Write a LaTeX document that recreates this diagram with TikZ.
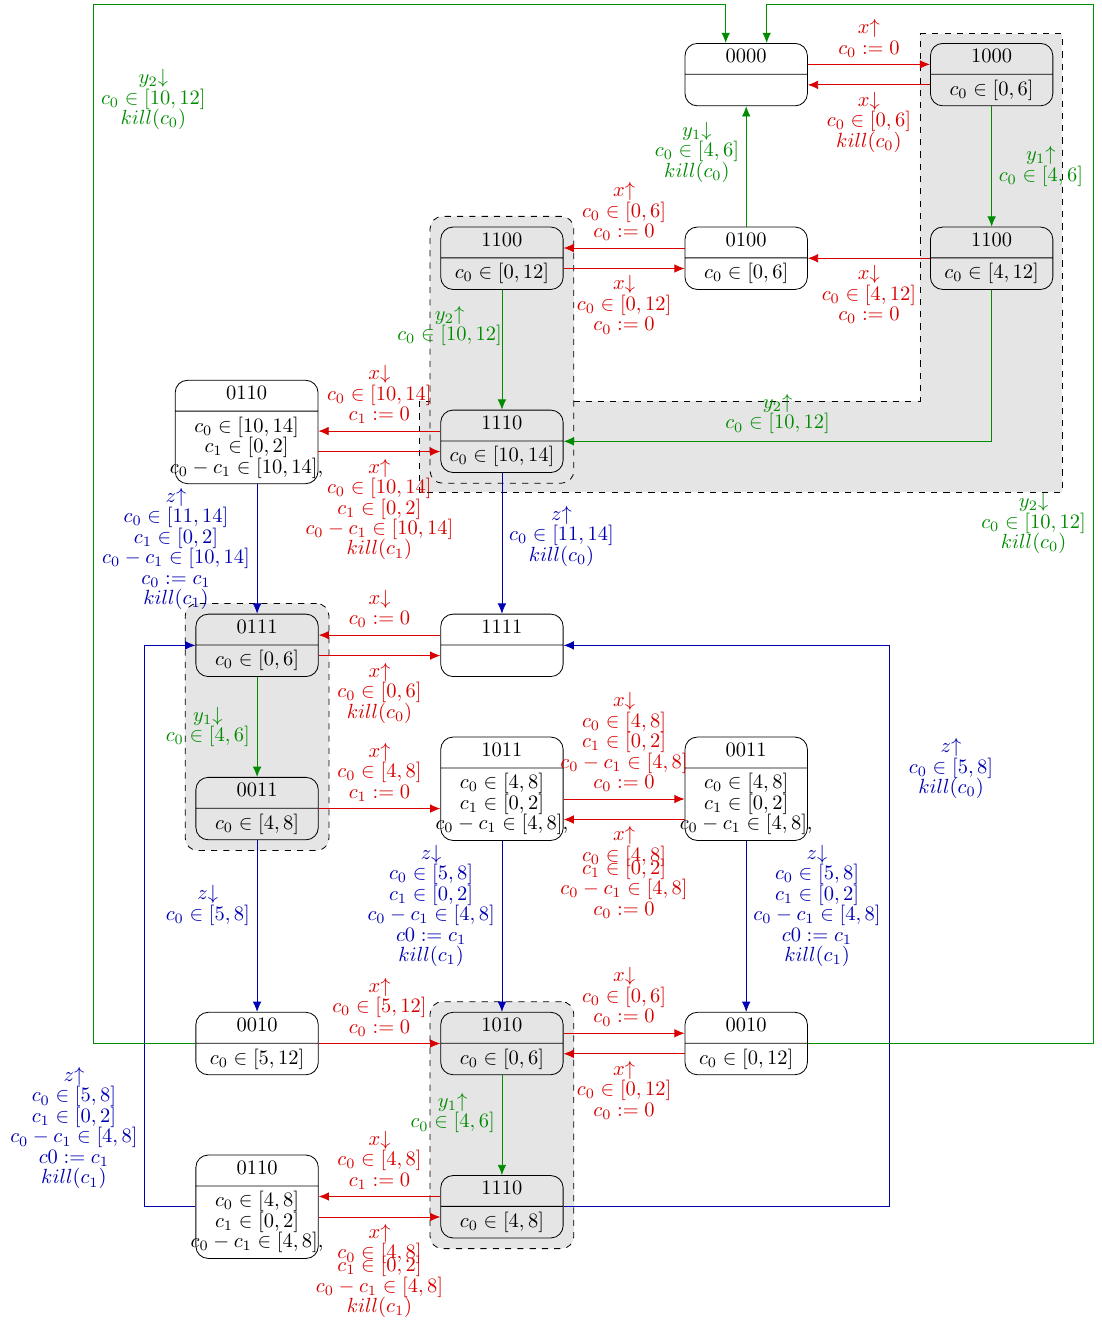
\documentclass[tikz,border=0pt]{standalone}
\usepackage{amsmath,amssymb}
\usepackage{tikz}
\usetikzlibrary{arrows.meta,backgrounds,fit,shapes.multipart,calc}

\newcommand\tightfont{\fontsize{10}{10}\selectfont}
\newcommand\nobody{$\vphantom{[]}$}
\newcommand\wide[1]{\makebox[0pt]{#1}}

\tikzset{
  state/.style={rectangle split, rectangle split parts=2, draw, rounded corners=6pt,
    minimum width=2.1cm, align=center, inner ysep=2.5pt, text depth=3pt},
  region/.style={draw=black, dashed, fill=gray!20},
  xedge/.style={->, color=red!85!black},
  yedge/.style={->, color=green!55!black},
  zedge/.style={->, color=blue!70!black},
  lbl/.style={align=center}
}

\begin{document}
\begin{tikzpicture}[>={Latex[length=5pt,width=4.2pt]}, font=\tightfont]
\useasboundingbox (0,0) rectangle (18.89,-22.78);

% states
\node[state] (s0000) at (12.80,-1.28) {0000 \nodepart{two} \nobody};
\node[state] (s1000) at (17.01,-1.28) {1000 \nodepart{two} $c_0 \in [0,6]$};
\node[state] (s1100a) at (8.61,-4.43) {1100 \nodepart{two} $c_0 \in [0,12]$};
\node[state] (s0100) at (12.80,-4.43) {0100 \nodepart{two} $c_0 \in [0,6]$};
\node[state] (s1100b) at (17.01,-4.43) {1100 \nodepart{two} $c_0 \in [4,12]$};
\node[state, minimum width=2.45cm] (s0110a) at (4.23,-7.41) {0110 \nodepart{two} $c_0 \in [10,14]$\\ $c_1 \in [0,2]$\\ \wide{$c_0 - c_1 \in [10,14]$,}};
\node[state] (s1110a) at (8.61,-7.57) {1110 \nodepart{two} $c_0 \in [10,14]$};
\node[state] (s0111) at (4.41,-11.07) {0111 \nodepart{two} $c_0 \in [0,6]$};
\node[state] (s1111) at (8.61,-11.07) {1111 \nodepart{two} \nobody};
\node[state] (s0011a) at (4.41,-13.87) {0011 \nodepart{two} $c_0 \in [4,8]$};
\node[state] (s1011) at (8.61,-13.53) {1011 \nodepart{two} $c_0 \in [4,8]$\\ $c_1 \in [0,2]$\\ \wide{$c_0 - c_1 \in [4,8]$,}};
\node[state] (s0011b) at (12.80,-13.53) {0011 \nodepart{two} $c_0 \in [4,8]$\\ $c_1 \in [0,2]$\\ \wide{$c_0 - c_1 \in [4,8]$,}};
\node[state] (s0010a) at (4.41,-17.90) {0010 \nodepart{two} $c_0 \in [5,12]$};
\node[state] (s1010) at (8.61,-17.90) {1010 \nodepart{two} $c_0 \in [0,6]$};
\node[state] (s0010b) at (12.80,-17.90) {0010 \nodepart{two} $c_0 \in [0,12]$};
\node[state] (s0110b) at (4.41,-20.70) {0110 \nodepart{two} $c_0 \in [4,8]$\\ $c_1 \in [0,2]$\\ \wide{$c_0 - c_1 \in [4,8]$,}};
\node[state] (s1110b) at (8.61,-20.70) {1110 \nodepart{two} $c_0 \in [4,8]$};

\coordinate (topleft) at (1.61,-0.07);
\coordinate (topright) at (18.75,-0.07);

% grey groups
\begin{scope}[on background layer]
\draw[region] (15.78,-0.58) -| (18.22,-8.44) -| (7.20,-6.88) -- (15.78,-6.88) -- cycle;
\node[region, rounded corners=6pt, inner sep=5pt, fit=(s1100a)(s1110a)] (g1) {};
\node[region, rounded corners=6pt, inner sep=5pt, fit=(s0111)(s0011a)] (g2) {};
\node[region, rounded corners=6pt, inner sep=5pt, fit=(s1010)(s1110b)] (g3) {};
\end{scope}

% top row
\draw[xedge] ([yshift=5pt]s0000.east) -- ([yshift=5pt]s1000.west) node[lbl, midway, above] {$x{\uparrow}$\\ $c_0 := 0$};
\draw[xedge] ([yshift=-5pt]s1000.west) -- ([yshift=-5pt]s0000.east) node[lbl, midway, below] {$x{\downarrow}$\\ $c_0 \in [0,6]$\\ $kill(c_0)$};
\draw[yedge] (s1000) -- (s1100b) node[lbl, midway, right] {$y_1{\uparrow}$\\ $c_0 \in [4,6]$};
\draw[xedge] (s1100b) -- (s0100) node[lbl, midway, below] {$x{\downarrow}$\\ $c_0 \in [4,12]$\\ $c_0 := 0$};
\draw[yedge] (s0100) -- (s0000) node[lbl, pos=0.62, left] {$y_1{\downarrow}$\\ $c_0 \in [4,6]$\\ $kill(c_0)$};
\draw[xedge] ([yshift=5pt]s0100.west) -- ([yshift=5pt]s0100.west -| s1100a.east) node[lbl, midway, above] {$x{\uparrow}$\\ $c_0 \in [0,6]$\\ $c_0 := 0$};
\draw[xedge] ([yshift=-5pt]s1100a.east) -- ([yshift=-5pt]s1100a.east -| s0100.west) node[lbl, midway, below] {$x{\downarrow}$\\ $c_0 \in [0,12]$\\ $c_0 := 0$};
\draw[yedge] (s1100a) -- (s1110a) node[lbl, pos=0.3, left, xshift=3.5pt] {$y_2{\uparrow}$\\ $c_0 \in [10,12]$};
\draw[yedge] (s1100b) |- (s1110a) node[lbl, pos=0.75, above] {$y_2{\uparrow}$\\ $c_0 \in [10,12]$};

% 0110 / 1110
\draw[xedge] ([yshift=5pt]s1110a.west) -- ([yshift=5pt]s1110a.west -| s0110a.east) node[lbl, midway, above] {$x{\downarrow}$\\ $c_0 \in [10,14]$\\ $c_1 := 0$};
\draw[xedge] ([yshift=-5pt]s1110a.west -| s0110a.east) -- ([yshift=-5pt]s1110a.west) node[lbl, midway, below] {$x{\uparrow}$\\ $c_0 \in [10,14]$\\ $c_1 \in [0,2]$\\ $c_0 - c_1 \in [10,14]$\\ $kill(c_1)$};
\draw[zedge] (s0110a.south -| s0111.north) -- (s0111) node[lbl, midway, left] {$z{\uparrow}$\\ $c_0 \in [11,14]$\\ $c_1 \in [0,2]$\\ $c_0 - c_1 \in [10,14]$\\ $c_0 := c_1$\\ $kill(c_1)$};
\draw[zedge] (s1110a) -- (s1111) node[lbl, pos=0.45, right] {$z{\uparrow}$\\ $c_0 \in [11,14]$\\ $kill(c_0)$};

% 0111 / 1111
\draw[xedge] ([yshift=5pt]s1111.west) -- ([yshift=5pt]s1111.west -| s0111.east) node[lbl, midway, above] {$x{\downarrow}$\\ $c_0 := 0$};
\draw[xedge] ([yshift=-5pt]s0111.east) -- ([yshift=-5pt]s0111.east -| s1111.west) node[lbl, midway, below] {$x{\uparrow}$\\ $c_0 \in [0,6]$\\ $kill(c_0)$};
\draw[yedge] (s0111) -- (s0011a) node[lbl, midway, left] {$y_1{\downarrow}$\\ $c_0 \in [4,6]$};

% 0011 / 1011 / 0011
\draw[xedge] (s0011a.east) -- (s0011a.east -| s1011.west) node[lbl, midway, above] {$x{\uparrow}$\\ $c_0 \in [4,8]$\\ $c_1 := 0$};
\draw[xedge] ([yshift=-5pt]s1011.east) -- ([yshift=-5pt]s1011.east -| s0011b.west) node[lbl, midway, above] {$x{\downarrow}$\\ $c_0 \in [4,8]$\\ $c_1 \in [0,2]$\\ $c_0 - c_1 \in [4,8]$\\ $c_0 := 0$};
\draw[xedge] ([yshift=-15pt]s1011.east -| s0011b.west) -- ([yshift=-15pt]s1011.east) node[lbl, midway, below] {$x{\uparrow}$\\ $c_0 \in [4,8]$\\[-3.7pt] $c_1 \in [0,2]$\\ $c_0 - c_1 \in [4,8]$\\ $c_0 := 0$};
\draw[zedge] (s0011a) -- (s0010a) node[lbl, pos=0.38, left] {$z{\downarrow}$\\ $c_0 \in [5,8]$};
\draw[zedge] (s1011) -- (s1010) node[lbl, pos=0.38, left] {$z{\downarrow}$\\ $c_0 \in [5,8]$\\ $c_1 \in [0,2]$\\ $c_0 - c_1 \in [4,8]$\\ $c0 := c_1$\\ $kill(c_1)$};
\draw[zedge] (s0011b) -- (s0010b) node[lbl, pos=0.38, right] {$z{\downarrow}$\\ $c_0 \in [5,8]$\\ $c_1 \in [0,2]$\\ $c_0 - c_1 \in [4,8]$\\ $c0 := c_1$\\ $kill(c_1)$};

% 0010 / 1010 / 0010
\draw[xedge] (s0010a) -- (s1010) node[lbl, midway, above] {$x{\uparrow}$\\ $c_0 \in [5,12]$\\ $c_0 := 0$};
\draw[xedge] ([yshift=5pt]s1010.east) -- ([yshift=5pt]s1010.east -| s0010b.west) node[lbl, midway, above] {$x{\downarrow}$\\ $c_0 \in [0,6]$\\ $c_0 := 0$};
\draw[xedge] ([yshift=-5pt]s0010b.west) -- ([yshift=-5pt]s0010b.west -| s1010.east) node[lbl, midway, below] {$x{\uparrow}$\\ $c_0 \in [0,12]$\\ $c_0 := 0$};
\draw[yedge] (s1010) -- (s1110b) node[lbl, pos=0.38, left] {$y_1{\uparrow}$\\ $c_0 \in [4,6]$};

% bottom row
\draw[xedge] ([yshift=5pt]s1110b.west) -- ([yshift=5pt]s1110b.west -| s0110b.east) node[lbl, midway, above] {$x{\downarrow}$\\ $c_0 \in [4,8]$\\ $c_1 := 0$};
\draw[xedge] ([yshift=-5pt]s0110b.east) -- ([yshift=-5pt]s0110b.east -| s1110b.west) node[lbl, midway, below] {$x{\uparrow}$\\ $c_0 \in [4,8]$\\[-3.7pt] $c_1 \in [0,2]$\\ $c_0 - c_1 \in [4,8]$\\ $kill(c_1)$};

% long loops
\draw[zedge] (s1110b.east) -| ([xshift=5.59cm]s1111.east) node[lbl, pos=0.89, right, xshift=6pt] {$z{\uparrow}$\\ $c_0 \in [5,8]$\\ $kill(c_0)$} -- (s1111.east);
\draw[zedge] (s0110b.west) -| ([xshift=-0.87cm]s0111.west) node[lbl, pos=0.57, left] {$z{\uparrow}$\\ $c_0 \in [5,8]$\\ $c_1 \in [0,2]$\\ $c_0 - c_1 \in [4,8]$\\ $c0 := c_1$\\ $kill(c_1)$} -- (s0111.west);
\draw[yedge] (s0010a.west) -| (topleft) node[lbl, pos=0.954, right] {$y_2{\downarrow}$\\ $c_0 \in [10,12]$\\ $kill(c_0)$} -| ([xshift=-10pt]s0000.north);
\draw[yedge] (s0010b.east) -| (topright) node[lbl, pos=0.75, left] {$y_2{\downarrow}$\\ $c_0 \in [10,12]$\\ $kill(c_0)$} -| ([xshift=10pt]s0000.north);
\end{tikzpicture}
\end{document}
